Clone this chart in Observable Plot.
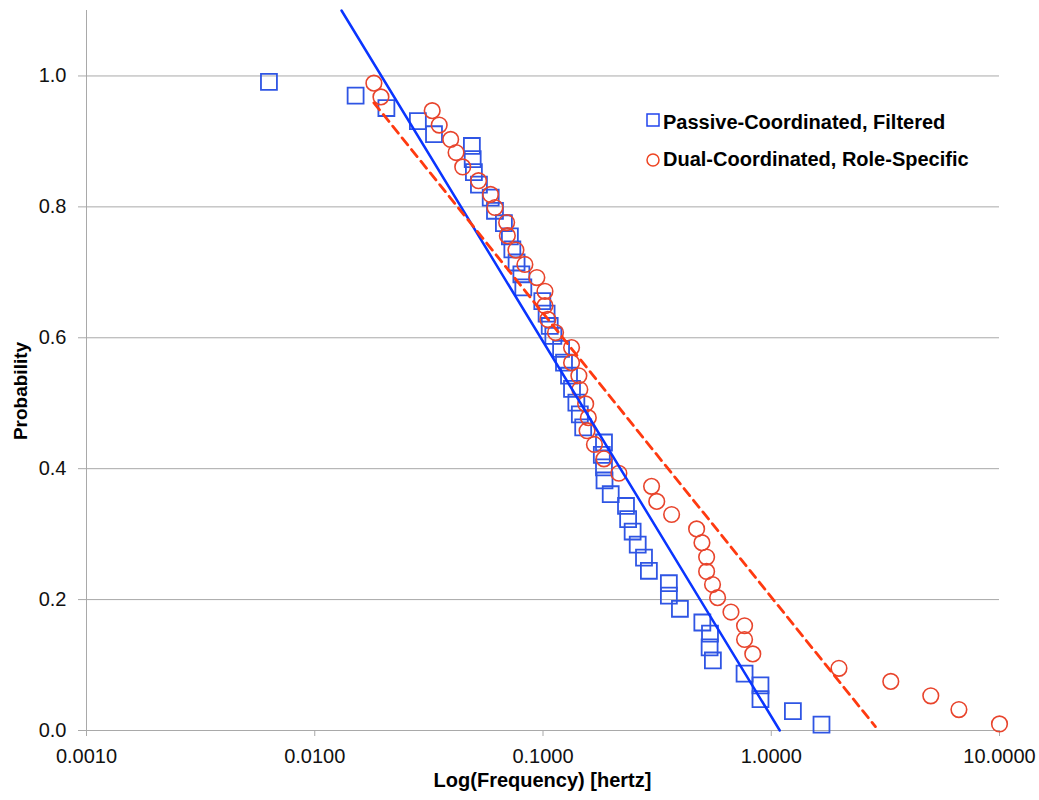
<!DOCTYPE html>
<html>
<head>
<meta charset="utf-8">
<script src="https://cdn.jsdelivr.net/npm/d3@7"></script>
<script src="https://cdn.jsdelivr.net/npm/@observablehq/plot@0.6"></script>
<style>
  html, body { margin: 0; padding: 0; background: #fff; }
  #wrap { position: relative; width: 1039px; height: 800px; }
  #wrap > svg { position: absolute; left: 0; top: 0; }
  #overlay { pointer-events: none; }
</style>
</head>
<body>
<div id="wrap"></div>
<script>
// ---- data ----
const passiveX = [0.0063, 0.0151, 0.0206, 0.0283, 0.0333, 0.0488, 0.0492, 0.0498, 0.0524, 0.0590,
  0.0616, 0.0674, 0.0716, 0.0734, 0.0766, 0.0804, 0.0820, 0.0993, 0.1037, 0.1070,
  0.1110, 0.1200, 0.1236, 0.1300, 0.1340, 0.1400, 0.1450, 0.1500, 0.1850, 0.1810,
  0.1850, 0.1860, 0.1980, 0.2310, 0.2360, 0.2470, 0.2600, 0.2770, 0.2910, 0.3560,
  0.3560, 0.3980, 0.4990, 0.5390, 0.5370, 0.5550, 0.7640, 0.8970, 0.8970, 1.2440, 1.6600];
const passiveY = [0.991, 0.970, 0.951, 0.931, 0.911, 0.893, 0.873, 0.853, 0.834, 0.814,
  0.794, 0.775, 0.755, 0.735, 0.715, 0.697, 0.677, 0.656, 0.637, 0.618,
  0.603, 0.583, 0.562, 0.542, 0.522, 0.501, 0.483, 0.463, 0.440, 0.421,
  0.402, 0.382, 0.361, 0.343, 0.323, 0.304, 0.284, 0.264, 0.244, 0.225,
  0.206, 0.186, 0.165, 0.148, 0.127, 0.107, 0.087, 0.069, 0.048, 0.0295, 0.009];

const dualX = [0.01816, 0.0195, 0.0327, 0.0351, 0.0394, 0.0416, 0.0445, 0.0522, 0.0589, 0.0616,
  0.0693, 0.0698, 0.0761, 0.0833, 0.0940, 0.1020, 0.1020, 0.1050, 0.1135, 0.1334,
  0.1334, 0.1436, 0.1450, 0.1538, 0.1580, 0.1560, 0.1680, 0.1850, 0.2150, 0.2990,
  0.3150, 0.3660, 0.4710, 0.4970, 0.5210, 0.5210, 0.5530, 0.5820, 0.6660, 0.7640,
  0.7640, 0.8300, 1.9800, 3.3400, 5.0000, 6.6400, 10.0000];
const dualY = [0.989, 0.968, 0.947, 0.925, 0.903, 0.883, 0.861, 0.840, 0.819, 0.799,
  0.776, 0.756, 0.734, 0.712, 0.692, 0.671, 0.649, 0.628, 0.608, 0.585,
  0.562, 0.542, 0.521, 0.499, 0.478, 0.458, 0.437, 0.415, 0.393, 0.373,
  0.350, 0.330, 0.308, 0.287, 0.265, 0.243, 0.223, 0.203, 0.181, 0.160,
  0.139, 0.117, 0.095, 0.075, 0.053, 0.032, 0.010];

// fitted trend lines (end points)
const passiveFitX = [0.0131, 1.09];
const passiveFitY = [1.1, 0.0];
const dualFitX = [0.01816, 2.86];
const dualFitY = [0.959, 0.006];

const xTicks = [0.001, 0.01, 0.1, 1, 10];
const yTicks = [0, 0.2, 0.4, 0.6, 0.8, 1.0];
const seriesNames = ["Passive-Coordinated, Filtered", "Dual-Coordinated, Role-Specific"];
const xTitle = "Log(Frequency) [hertz]";
const yTitle = "Probability";

// ---- build tables ----
const passive = passiveX.map((x, i) => ({x, y: passiveY[i]}));
const dual = dualX.map((x, i) => ({x, y: dualY[i]}));
const passiveFit = passiveFitX.map((x, i) => ({x, y: passiveFitY[i]}));
const dualFit = dualFitX.map((x, i) => ({x, y: dualFitY[i]}));

const FONT = "'Liberation Sans', Arial, Helvetica, sans-serif";
const GRID = "#a9a9a9";
const BLUE = "#2f55e4";
const RED = "#e8442c";

const W = 1039, H = 800;
const mL = 86, mR = 40, mT = 10, mB = 70;

const chart = Plot.plot({
  width: W, height: H,
  marginLeft: mL, marginRight: mR, marginTop: mT, marginBottom: mB,
  style: {fontFamily: FONT, fontSize: "20px", background: "#fff", color: "#111"},
  x: {type: "log", domain: [0.001, 10]},
  y: {domain: [0, 1.1]},
  marks: [
    Plot.gridY(yTicks.filter(d => d > 0), {stroke: GRID, strokeOpacity: 1, strokeWidth: 1}),
    Plot.ruleY([0], {stroke: GRID, strokeWidth: 1}),
    Plot.ruleX([0.001], {stroke: GRID, strokeWidth: 1}),
    Plot.axisY({ticks: yTicks, tickFormat: d3.format(".1f"), tickSize: 8, tickPadding: 12,
      stroke: GRID, fill: "#111", fontSize: 20, label: null}),
    Plot.axisX({ticks: xTicks, tickFormat: d3.format(".4f"), tickSize: 6, tickPadding: 12,
      stroke: GRID, fill: "#111", fontSize: 20, label: null}),
    Plot.dot(passive, {x: "x", y: "y", symbol: "square", r: 9, stroke: BLUE, strokeWidth: 1.8, fill: "none"}),
    Plot.dot(dual, {x: "x", y: "y", symbol: "circle", r: 7.8, stroke: RED, strokeWidth: 1.6, fill: "none"}),
    Plot.line(passiveFit, {x: "x", y: "y", stroke: "#0a35ff", strokeWidth: 2.5}),
    Plot.line(dualFit, {x: "x", y: "y", stroke: "#ff3a10", strokeWidth: 2.8, strokeDasharray: "9,6"})
  ]
});

const wrap = document.getElementById("wrap");
wrap.appendChild(chart);

// ---- overlay: titles and legend as real text ----
const ns = "http://www.w3.org/2000/svg";
const ov = document.createElementNS(ns, "svg");
ov.setAttribute("id", "overlay");
ov.setAttribute("width", W);
ov.setAttribute("height", H);
wrap.appendChild(ov);

function txt(str, attrs) {
  const t = document.createElementNS(ns, "text");
  for (const k in attrs) t.setAttribute(k, attrs[k]);
  t.textContent = str;
  ov.appendChild(t);
  return t;
}
const plotCenterX = mL + (W - mL - mR) / 2;
txt(xTitle, {x: plotCenterX, y: 787, "text-anchor": "middle", "font-family": FONT,
  "font-size": 20, "font-weight": "bold", fill: "#000"});
txt(yTitle, {transform: "translate(27,391) rotate(-90)", "text-anchor": "middle", "font-family": FONT,
  "font-size": 19, "font-weight": "bold", fill: "#000"});

// legend
const legX = 653;
const rows = [{y: 120, base: 129, kind: "square", color: "#2244ee"}, {y: 160, base: 166, kind: "circle", color: "#ee4422"}];
rows.forEach((r, i) => {
  let s;
  if (r.kind === "square") {
    s = document.createElementNS(ns, "rect");
    s.setAttribute("x", legX - 6); s.setAttribute("y", r.y - 6);
    s.setAttribute("width", 12); s.setAttribute("height", 12);
  } else {
    s = document.createElementNS(ns, "circle");
    s.setAttribute("cx", legX); s.setAttribute("cy", r.y); s.setAttribute("r", 6);
  }
  s.setAttribute("fill", "none"); s.setAttribute("stroke", r.color); s.setAttribute("stroke-width", 1.5);
  ov.appendChild(s);
  txt(seriesNames[i], {x: 663, y: r.base, "font-family": FONT, "font-size": 20, "font-weight": "bold", fill: "#000"});
});
</script>
</body>
</html>
